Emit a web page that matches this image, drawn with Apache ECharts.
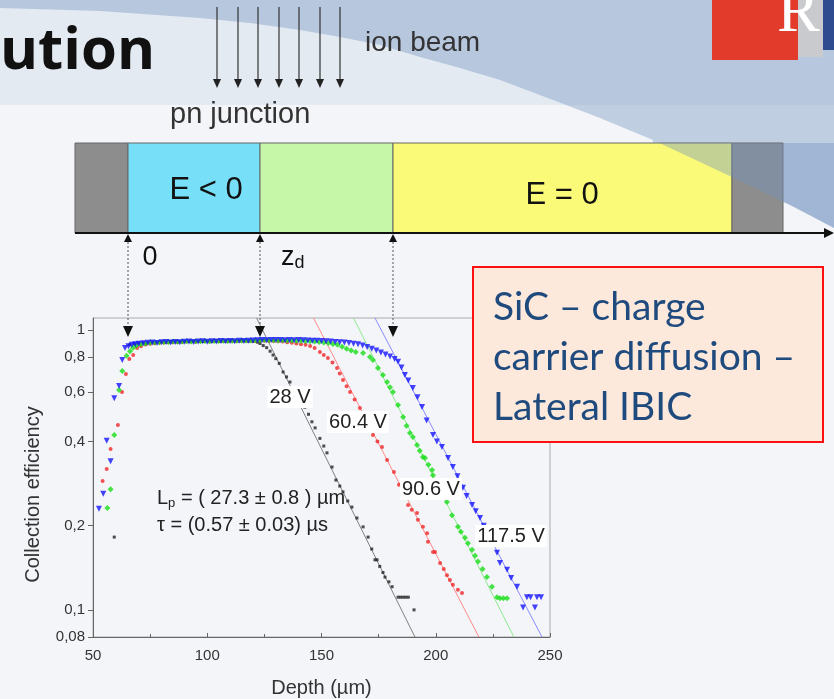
<!DOCTYPE html>
<html><head><meta charset="utf-8">
<script src="https://cdn.jsdelivr.net/npm/echarts@6/dist/echarts.min.js"></script>
<style>html,body{margin:0;padding:0;background:#f3f5f9}#c{width:834px;height:699px}</style>
</head><body><div id="c"></div>
<script>
// ---- axis / tick data ----
const yTickValues = [0.08, 0.1, 0.2, 0.4, 0.6, 0.8, 1];
const xRange = [50, 250];
const yRange = [0.08, 1.104];
const seriesNames = ['28 V', '60.4 V', '90.6 V', '117.5 V'];

// ---- measured points [depth (µm), collection efficiency] ----
const black28 = [[59.3,0.182],[66,0.885],[68,0.893],[70,0.897],[72,0.9],[74,0.902],[76,0.904],[78,0.905],[80,0.906],[82,0.905],[84,0.907],[86,0.908],[88,0.907],[90,0.909],[92,0.91],[94,0.909],[96,0.911],[98,0.91],[100,0.912],[102,0.911],[104,0.913],[106,0.912],[108,0.913],[110,0.914],[112,0.913],[114,0.914],[116,0.913],[118,0.912],[120,0.91],[122,0.905],[123.1,0.895],[124.5,0.88],[126,0.865],[127.5,0.84],[128.8,0.814],[130,0.79],[131.5,0.76],[133.2,0.708],[134.7,0.68],[136.2,0.652],[137.8,0.62],[139.5,0.59],[141,0.56],[142.7,0.53],[144.3,0.5],[145.8,0.47],[147.2,0.447],[149.3,0.41],[151,0.385],[152.4,0.364],[154.6,0.324],[156.3,0.291],[158,0.277],[159.4,0.264],[161.5,0.245],[163.3,0.233],[165.5,0.213],[168.2,0.198],[170.4,0.182],[172,0.165],[173.4,0.151],[174.3,0.151],[175.5,0.143],[176.9,0.136],[177.8,0.131],[179.5,0.126],[180.9,0.121],[183.5,0.111],[184.6,0.111],[185.7,0.111],[186.8,0.111],[188,0.111],[190.5,0.1]];
const red604 = [[54.2,0.289],[56.0,0.319],[57.7,0.376],[60.9,0.458],[62.7,0.601],[64.4,0.696],[65.9,0.788],[67.6,0.814],[69.3,0.862],[71,0.875],[73,0.887],[75,0.893],[77,0.897],[79,0.9],[81,0.903],[83,0.905],[85,0.904],[87,0.907],[89,0.906],[91,0.909],[93,0.91],[95,0.908],[97,0.911],[99,0.912],[101,0.91],[103,0.913],[105,0.912],[107,0.914],[109,0.913],[111,0.915],[113,0.914],[115,0.916],[117,0.915],[119,0.917],[121,0.916],[123,0.917],[125,0.915],[127,0.914],[129,0.913],[131,0.911],[133,0.909],[135,0.905],[137,0.9],[139,0.895],[141,0.89],[143,0.885],[145,0.877],[147,0.862],[149.3,0.834],[151,0.815],[152.8,0.794],[154.8,0.765],[156.8,0.732],[158,0.7],[159.4,0.663],[161,0.63],[162.5,0.601],[164.5,0.565],[166.8,0.527],[168.5,0.49],[170.5,0.455],[172.5,0.422],[174.5,0.4],[176.5,0.382],[178.7,0.343],[181.7,0.311],[183.9,0.28],[186,0.26],[187.9,0.237],[189.5,0.228],[191.8,0.222],[192.2,0.21],[194.4,0.198],[196.2,0.188],[196.6,0.175],[198.8,0.161],[199.7,0.161],[201.9,0.147],[203.5,0.14],[204.9,0.133],[206.2,0.128],[207.5,0.123],[209.7,0.118],[211.5,0.115]];
const green906 = [[56.3,0.231],[57.7,0.27],[59.3,0.422],[61.4,0.61],[62.8,0.714],[64.7,0.81],[66.2,0.84],[67.5,0.865],[69,0.88],[71,0.889],[73,0.895],[75,0.9],[77,0.903],[79,0.905],[81,0.907],[83,0.906],[85,0.909],[87,0.908],[89,0.91],[91,0.911],[93,0.909],[95,0.912],[97,0.911],[99,0.913],[101,0.912],[103,0.914],[105,0.913],[107,0.915],[109,0.914],[111,0.916],[113,0.915],[115,0.917],[117,0.918],[119,0.917],[121,0.919],[123,0.92],[125,0.921],[127,0.919],[129,0.92],[131,0.918],[133,0.919],[135,0.917],[137,0.918],[139,0.916],[141,0.915],[143,0.914],[145,0.912],[147,0.91],[149,0.907],[151,0.903],[153,0.898],[155,0.892],[157,0.885],[159,0.872],[161,0.858],[163,0.845],[165,0.835],[168.2,0.827],[171.2,0.801],[172.5,0.781],[174.7,0.732],[176.9,0.691],[178.7,0.652],[180,0.625],[181.3,0.601],[183.5,0.54],[185.7,0.489],[187.2,0.455],[188.7,0.429],[190,0.415],[191.8,0.388],[193,0.37],[194.4,0.352],[195.3,0.349],[196.8,0.33],[198.4,0.316],[198.8,0.303],[201,0.28],[202.5,0.265],[204.9,0.243],[207.1,0.218],[209.7,0.198],[211,0.19],[212.8,0.181],[214.1,0.173],[215.9,0.164],[217.2,0.156],[218.5,0.149],[220.5,0.14],[222.4,0.131],[224.6,0.121],[226.8,0.111],[228.1,0.11],[229.6,0.11],[231.2,0.11]];
const blue1175 = [[52.6,0.23],[54.5,0.26],[56.0,0.402],[57.7,0.34],[59.3,0.571],[61.4,0.631],[62.8,0.781],[64.0,0.862],[65.5,0.875],[67,0.885],[68.5,0.889],[70,0.893],[72,0.897],[74,0.9],[76,0.902],[78,0.899],[80,0.904],[82,0.906],[84,0.903],[86,0.907],[88,0.905],[90,0.908],[92,0.91],[94,0.906],[96,0.909],[98,0.911],[100,0.908],[102,0.912],[104,0.91],[106,0.913],[108,0.911],[110,0.914],[112,0.912],[114,0.915],[116,0.913],[118,0.916],[120,0.918],[122,0.92],[124,0.921],[126,0.92],[128,0.922],[130,0.921],[132,0.922],[134,0.92],[136,0.921],[138,0.92],[140,0.921],[142,0.92],[144,0.918],[146,0.916],[148,0.915],[150,0.913],[152,0.911],[154,0.909],[156,0.907],[158,0.905],[160,0.902],[162,0.898],[164,0.894],[166,0.889],[168,0.881],[170,0.869],[172,0.857],[174,0.845],[176,0.832],[178,0.818],[180,0.805],[182,0.788],[183.5,0.77],[185,0.735],[186.5,0.69],[188,0.66],[190,0.621],[192,0.575],[194,0.531],[196,0.475],[198.8,0.422],[200.5,0.4],[202.7,0.382],[205.4,0.349],[207.5,0.324],[209.5,0.3],[211.9,0.273],[213.5,0.255],[215.9,0.237],[217.5,0.225],[219.4,0.213],[221,0.2],[223,0.185],[225,0.172],[226.8,0.16],[228.1,0.147],[231.2,0.139],[233,0.13],[235.6,0.121],[238.2,0.102],[239.9,0.111],[241.5,0.111],[243.4,0.102],[244.3,0.111],[246.1,0.111]];

// ---- exponential fits (straight lines on log axis) ----
const fit28 = [[121.6,1.104],[190.9,0.08]];
const fit604 = [[146.5,1.104],[218.9,0.08]];
const fit906 = [[164.0,1.104],[234.2,0.08]];
const fit1175 = [[173.4,1.104],[246.5,0.08]];

const chart = echarts.init(document.getElementById('c'), null, {renderer:'canvas'});
const AX = "'Liberation Sans', Arial, sans-serif";

function fitSeries(data, color){
  return {type:'line', data, symbol:'none', silent:true, z:3,
    lineStyle:{color, width:1}};
}
function scat(name, data, color, symbol, size, rot){
  return {name, type:'scatter', data, symbol, symbolSize:size, symbolRotate:rot||0, z:4,
    itemStyle:{color}};
}

// decorative diagram elements
const G = [];
G.push({type:'rect', z:-20, shape:{x:0,y:0,width:834,height:105}, style:{fill:'#e4eaf2'}});
G.push({type:'polygon', z:-19, shape:{points:[[0,0],[834,0],[834,228],[794,207],[753,187],[700,162],[653,140],[600,118],[553,100],[500,80],[460,68],[420,57],[380,45],[340,37],[300,30],[250,23],[200,18],[100,11],[0,8]]}, style:{fill:'rgba(115,148,192,0.40)'}});
G.push({type:'text', z:50, style:{text:'ution', x:0, y:52, font:"bold 58px 'Open Sans', 'Noto Sans', sans-serif", fill:'#111', verticalAlign:'middle'}});
[217,238,258,279,299,320,340].forEach(x=>{
  G.push({type:'line', z:50, shape:{x1:x,y1:7,x2:x,y2:81}, style:{stroke:'#333', lineWidth:1.2}});
  G.push({type:'polygon', z:50, shape:{points:[[x-4,79],[x+4,79],[x,88]]}, style:{fill:'#222'}});
});
G.push({type:'text', z:50, style:{text:'ion beam', x:365, y:43, font:"28px "+AX, fill:'#333', verticalAlign:'middle'}});
G.push({type:'text', z:50, style:{text:'pn junction', x:170, y:115, font:"29px "+AX, fill:'#333', verticalAlign:'middle'}});
const segs = [[75,128,'#8d8d8d'],[128,260,'#78dff8'],[260,393,'#c6f7a9'],[393,732,'#fafa78'],[732,783,'#8d8d8d']];
segs.forEach(s=>G.push({type:'rect', z:-18, shape:{x:s[0],y:143,width:s[1]-s[0],height:90}, style:{fill:s[2], stroke:'#666', lineWidth:1}}));
G.push({type:'polygon', z:-17, shape:{points:[[653,140],[700,162],[753,187],[794,207],[834,228],[834,143],[653,143]]}, style:{fill:'rgba(115,148,192,0.40)'}});
G.push({type:'line', z:50, shape:{x1:75,y1:233,x2:826,y2:233}, style:{stroke:'#111', lineWidth:2}});
G.push({type:'polygon', z:50, shape:{points:[[824,228],[834,233],[824,238]]}, style:{fill:'#111'}});
G.push({type:'text', z:50, style:{text:'E < 0', x:206, y:190, font:"31px "+AX, fill:'#111', align:'center', verticalAlign:'middle'}});
G.push({type:'text', z:50, style:{text:'E = 0', x:562, y:195, font:"31px "+AX, fill:'#111', align:'center', verticalAlign:'middle'}});
G.push({type:'text', z:50, style:{text:'0', x:150, y:258, font:"27px "+AX, fill:'#111', align:'center', verticalAlign:'middle'}});
G.push({type:'text', z:50, style:{text:'{a|z}{b|d}', x:281, y:258, font:"27px "+AX, fill:'#111', verticalAlign:'middle',
  rich:{a:{font:"27px "+AX, fill:'#111'}, b:{font:"18px "+AX, fill:'#111', padding:[10,0,0,0]}}}});
[128,260,393].forEach(x=>{
  G.push({type:'polygon', z:60, shape:{points:[[x-4,242],[x+4,242],[x,234]]}, style:{fill:'#111'}});
  G.push({type:'line', z:60, shape:{x1:x,y1:242,x2:x,y2:327}, style:{stroke:'#555', lineWidth:1, lineDash:[2,2]}});
  G.push({type:'polygon', z:60, shape:{points:[[x-5,326],[x+5,326],[x,337]]}, style:{fill:'#111'}});
});
G.push({type:'rect', z:50, shape:{x:712,y:0,width:86,height:60}, style:{fill:'#e23a2b'}});
G.push({type:'rect', z:50, shape:{x:798,y:0,width:25,height:57}, style:{fill:'#c9cacd'}});
G.push({type:'rect', z:50, shape:{x:823,y:0,width:11,height:50}, style:{fill:'#2d4b8e'}});
G.push({type:'text', z:51, style:{text:'R', x:777, y:46, font:"64px 'Liberation Serif', serif", fill:'#fff', verticalAlign:'bottom'}});
function lab(t,x,y){ G.push({type:'text', z:80, style:{text:t, x, y, font:"20px "+AX, fill:'#222', align:'center', verticalAlign:'middle', backgroundColor:'#fff', padding:[1,2]}}); }
lab('28 V',290,397); lab('60.4 V',358,422); lab('90.6 V',431,489); lab('117.5 V',511,536);
G.push({type:'text', z:80, style:{text:'{a|L}{s|p}{a| = ( 27.3 ± 0.8 ) µm}', x:157, y:498, verticalAlign:'middle',
  rich:{a:{font:"20px "+AX, fill:'#222'}, s:{font:"13px "+AX, fill:'#222', padding:[11,0,0,0]}}}});
G.push({type:'text', z:80, style:{text:'τ = (0.57 ± 0.03) µs', x:157, y:525, font:"20px "+AX, fill:'#222', verticalAlign:'middle'}});
G.push({type:'rect', z:90, shape:{x:473,y:267,width:350,height:175}, style:{fill:'#fde9dc', stroke:'#ff1010', lineWidth:2}});
[['SiC – charge',307],['carrier diffusion –',357],['Lateral IBIC',407]].forEach(l=>{
  G.push({type:'text', z:91, style:{text:l[0], x:493, y:l[1], font:"39px Lato, 'Open Sans', sans-serif", fill:'#1f4a7d', verticalAlign:'middle'}});
});

chart.setOption({
  backgroundColor:'#f3f5f9',
  animation:false,
  grid:{left:93, top:318, width:457, height:319, show:true, borderColor:'#aaa', borderWidth:1, backgroundColor:'transparent'},
  xAxis:{type:'value', min:xRange[0], max:xRange[1], interval:50,
    name:'Depth (µm)', nameLocation:'middle', nameGap:41,
    nameTextStyle:{fontFamily:AX, fontSize:20, color:'#333'},
    axisLine:{show:true, lineStyle:{color:'#666'}},
    axisTick:{show:true, inside:true, length:4, lineStyle:{color:'#666'}},
    minorTick:{show:true, splitNumber:2, length:3, lineStyle:{color:'#666'}},
    axisLabel:{fontFamily:AX, fontSize:15, color:'#333', margin:11},
    splitLine:{show:false}},
  yAxis:{type:'log', logBase:10, min:yRange[0], max:yRange[1],
    name:'Collection efficiency', nameLocation:'middle', nameGap:50,
    nameTextStyle:{fontFamily:AX, fontSize:20, color:'#333', padding:[0,34,0,0]},
    axisLine:{show:true, lineStyle:{color:'#666'}},
    axisTick:{show:true, length:5, customValues:yTickValues, lineStyle:{color:'#666'}},
    axisLabel:{fontFamily:AX, fontSize:15, color:'#333', margin:8, customValues:yTickValues,
      formatter:v=>String(+(+v).toFixed(2)).replace('.', ',')},
    splitLine:{show:false}, minorTick:{show:false}},
  series:[
    fitSeries(fit28,'#808080'), fitSeries(fit604,'#ff8a8a'), fitSeries(fit906,'#8ee88e'), fitSeries(fit1175,'#8a8aff'),
    scat(seriesNames[0], black28, '#222', 'rect', 3),
    scat(seriesNames[1], red604, '#f02828', 'circle', 4),
    scat(seriesNames[2], green906, '#18dd18', 'diamond', 6),
    scat(seriesNames[3], blue1175, '#1414ff', 'triangle', 6, 180)
  ],
  graphic:{elements:G}
});
</script></body></html>
